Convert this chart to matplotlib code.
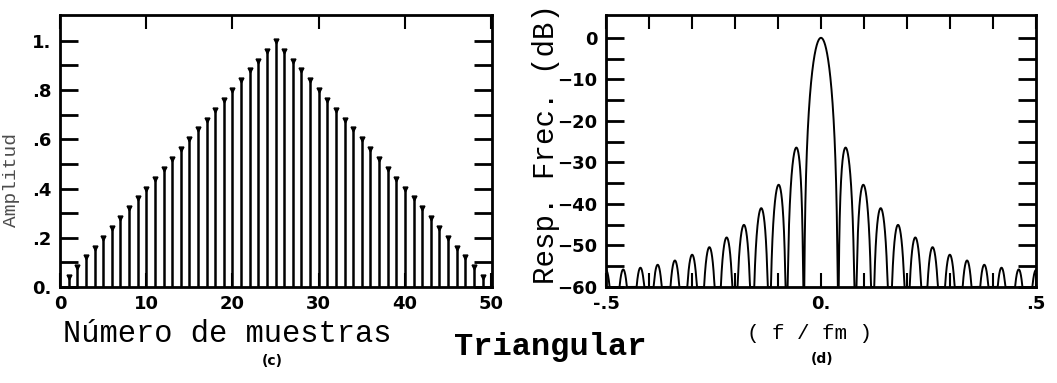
import matplotlib.pyplot as plt
import numpy as np

# ---- data -------------------------------------------------------------------
# (c) triangular window, samples 0..50
n_samples = list(range(51))
amplitude = [0.00, 0.04, 0.08, 0.12, 0.16, 0.20, 0.24, 0.28, 0.32, 0.36,
             0.40, 0.44, 0.48, 0.52, 0.56, 0.60, 0.64, 0.68, 0.72, 0.76,
             0.80, 0.84, 0.88, 0.92, 0.96, 1.00, 0.96, 0.92, 0.88, 0.84,
             0.80, 0.76, 0.72, 0.68, 0.64, 0.60, 0.56, 0.52, 0.48, 0.44,
             0.40, 0.36, 0.32, 0.28, 0.24, 0.20, 0.16, 0.12, 0.08, 0.04,
             0.00]

amp_ticks = [0, 0.2, 0.4, 0.6, 0.8, 1.0]
amp_ticklabels = ['0.', '.2', '.4', '.6', '.8', '1.']
n_ticks = [0, 10, 20, 30, 40, 50]

# (d) frequency response (dB) of the window above, floor at -60 dB
db_floor = -60
db_ticks = [0, -10, -20, -30, -40, -50, -60]
f_ticks = [-0.5, -0.4, -0.3, -0.2, -0.1, 0.0, 0.1, 0.2, 0.3, 0.4, 0.5]
f_ticklabels = ['-.5', '', '', '', '', '0.', '', '', '', '', '.5']

mono = 'Liberation Mono'
nfft = 16384

# spectrum of the (c) samples
H = np.fft.fftshift(np.fft.fft(np.array(amplitude), nfft))
freq = np.fft.fftshift(np.fft.fftfreq(nfft))
mag = np.abs(H) / np.abs(H).max()
resp_db = np.clip(20 * np.log10(np.maximum(mag, 1e-12)), db_floor, None)

# ---- figure -------------------------------------------------------------------
fig = plt.figure(figsize=(10.57, 3.83), dpi=100)
ax1 = fig.add_axes([0.0568, 0.2507, 0.4087, 0.7102])
ax2 = fig.add_axes([0.5733, 0.2507, 0.4068, 0.7102])

# (c) stems
ax1.vlines(n_samples, 0, amplitude, color='k', lw=1.8)
ax1.plot(n_samples[1:-1], amplitude[1:-1], 'kv', ms=3.5)
ax1.set_xlim(0, 50.1)
ax1.set_ylim(0, 1.105)
ax1.set_xticks(n_ticks)
ax1.set_yticks(amp_ticks)
ax1.set_yticklabels(amp_ticklabels)
ax1.set_yticks(np.arange(0.1, 1.1, 0.2), minor=True)

# (d) response
ax2.plot(freq, resp_db, color='k', lw=1.4)
ax2.set_xlim(-0.5, 0.5)
ax2.set_ylim(db_floor, 5.5)
ax2.set_xticks(f_ticks)
ax2.set_xticklabels(f_ticklabels)
ax2.set_yticks(db_ticks)
ax2.set_yticks(np.arange(-55, 5, 10), minor=True)

for ax in (ax1, ax2):
    for s in ax.spines.values():
        s.set_linewidth(2)
    ax.tick_params(axis='y', which='both', direction='in', length=13, width=2,
                   left=True, right=True, labelsize=13, pad=6)
    ax.tick_params(axis='x', which='both', direction='in', length=10, width=1.5,
                   top=True, bottom=True, labelsize=13, pad=6)
    for lab in ax.get_xticklabels() + ax.get_yticklabels():
        lab.set_fontweight('bold')

# labels
fig.text(0.2148, 0.127, 'Número de muestras', family=mono, fontsize=22,
         ha='center', va='center')
fig.text(0.258, 0.058, '(c)', fontsize=10, fontweight='bold',
         ha='center', va='center')
fig.text(0.521, 0.094, 'Triangular', family=mono, fontsize=23,
         fontweight='bold', ha='center', va='center')
fig.text(0.766, 0.13, '( f / fm )', family=mono, fontsize=15,
         ha='center', va='center')
fig.text(0.778, 0.063, '(d)', fontsize=10, fontweight='bold',
         ha='center', va='center')
fig.text(0.517, 0.625, 'Resp. Frec. (dB)', family=mono, fontsize=21,
         rotation=90, ha='center', va='center')
fig.text(0.011, 0.53, 'Amplitud', family=mono, fontsize=14, color='0.3',
         rotation=90, ha='center', va='center')

fig.savefig('out.png', dpi=100)
